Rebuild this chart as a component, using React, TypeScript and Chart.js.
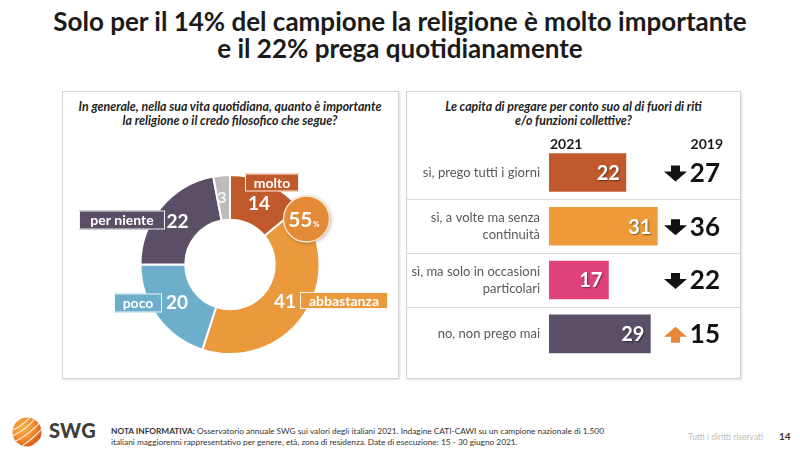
import React, { useEffect, useRef } from "react";
import { Chart, registerables } from "chart.js";

Chart.register(...registerables);

const FONT = "Lato, 'Open Sans', sans-serif";

// ---------- data ----------
const titleLines = [
  "Solo per il 14% del campione la religione è molto importante",
  "e il 22% prega quotidianamente",
];

const donutQuestion = [
  "In generale, nella sua vita quotidiana, quanto è importante",
  "la religione o il credo filosofico che segue?",
];
const donutLabels = ["molto", "abbastanza", "poco", "per niente", ""];
const donutValues = [14, 41, 20, 22, 3];
const donutColors = ["#C0592B", "#EA9A3C", "#6DAECB", "#5A4F66", "#BFBBBA"];
const importantTotal = 55;

const barQuestion = [
  "Le capita di pregare per conto suo al di fuori di riti",
  "e/o funzioni collettive?",
];
const barCategories = [
  ["sì, prego tutti i giorni"],
  ["sì, a volte ma senza", "continuità"],
  ["sì, ma solo in occasioni", "particolari"],
  ["no, non prego mai"],
];
const values2021 = [22, 31, 17, 29];
const values2019 = [27, 36, 22, 15];
const barColors = ["#C0592B", "#EE9B3A", "#E0417B", "#5A4F66"];
const yearLabels = ["2021", "2019"];

const noteBold = "NOTA INFORMATIVA:";
const noteLines = [
  " Osservatorio annuale SWG sui valori degli italiani 2021. Indagine CATI-CAWI su un campione nazionale di 1.500",
  "italiani maggiorenni rappresentativo per genere, età, zona di residenza. Date di esecuzione: 15 - 30 giugno 2021.",
];

// ---------- label layout (offsets from donut centre, px) ----------
const donutLabelLayout = [
  { vx: 29, vy: -61, box: [42, -82, 54, 18] },
  { vx: 55, vy: 37, box: [114, 36, 88, 17] },
  { vx: -53, vy: 38.5, box: [-92, 38.5, 48, 19] },
  { vx: -52.5, vy: -43, box: [-108, -44.5, 86, 19] },
  { vx: -8, vy: -67, box: null as null | number[] },
];
const bubbleOffset = { x: 76.5, y: -45.5, r: 23 };

function DonutChart() {
  const ref = useRef<HTMLCanvasElement | null>(null);
  useEffect(() => {
    if (!ref.current) return;
    const labelPlugin = {
      id: "donutLabels",
      afterDraw(chart: any) {
        const ctx = chart.ctx as CanvasRenderingContext2D;
        const meta = chart.getDatasetMeta(0);
        const arc = meta.data[0] as any;
        const cx = arc.x;
        const cy = arc.y;
        ctx.save();
        ctx.textBaseline = "middle";
        donutValues.forEach((v, i) => {
          const lay = donutLabelLayout[i];
          if (lay.box) {
            const [bx, by, bw, bh] = lay.box;
            ctx.fillStyle = donutColors[i];
            ctx.fillRect(cx + bx - bw / 2, cy + by - bh / 2, bw, bh);
            ctx.strokeStyle = "rgba(255,255,255,0.9)";
            ctx.lineWidth = 1;
            ctx.strokeRect(cx + bx - bw / 2 + 0.5, cy + by - bh / 2 + 0.5, bw - 1, bh - 1);
            ctx.fillStyle = "#ffffff";
            ctx.font = `bold 14px ${FONT}`;
            ctx.textAlign = "center";
            ctx.fillText(donutLabels[i], cx + bx, cy + by + 0.5);
          }
          ctx.fillStyle = i === 4 ? "rgba(255,255,255,0.85)" : "#ffffff";
          ctx.font = i === 4 ? `bold 16px ${FONT}` : `bold 19px ${FONT}`;
          ctx.textAlign = "center";
          ctx.fillText(String(v), cx + lay.vx, cy + lay.vy);
        });
        // 55% bubble
        const bx = cx + bubbleOffset.x;
        const by = cy + bubbleOffset.y;
        ctx.shadowColor = "rgba(0,0,0,0.35)";
        ctx.shadowBlur = 4;
        ctx.shadowOffsetX = 1;
        ctx.shadowOffsetY = 1;
        ctx.beginPath();
        ctx.arc(bx, by, bubbleOffset.r, 0, Math.PI * 2);
        ctx.fillStyle = "#E28A35";
        ctx.fill();
        ctx.shadowColor = "transparent";
        ctx.lineWidth = 1.5;
        ctx.strokeStyle = "#FBE3C8";
        ctx.stroke();
        ctx.fillStyle = "#ffffff";
        ctx.font = `bold 21px ${FONT}`;
        ctx.textAlign = "right";
        ctx.fillText(String(importantTotal), bx + 6, by + 1);
        ctx.font = `bold 8px ${FONT}`;
        ctx.textAlign = "left";
        ctx.fillText("%", bx + 6.5, by + 5);
        ctx.restore();
      },
    };
    const chart = new Chart(ref.current, {
      type: "doughnut",
      data: {
        labels: donutLabels,
        datasets: [
          {
            data: donutValues,
            backgroundColor: donutColors,
            borderColor: "#ffffff",
            borderWidth: 2,
          },
        ],
      },
      options: {
        responsive: false,
        animation: false,
        events: [],
        radius: 89.5,
        cutout: "50%",
        layout: { padding: { left: 60, right: 60, top: 70, bottom: 10 } },
        plugins: { legend: { display: false }, tooltip: { enabled: false } },
      } as any,
      plugins: [labelPlugin],
    });
    return () => chart.destroy();
  }, []);
  return <canvas ref={ref} width={336} height={287} style={{ position: "absolute", left: 62, top: 91 }} />;
}

function BarChart() {
  const ref = useRef<HTMLCanvasElement | null>(null);
  useEffect(() => {
    if (!ref.current) return;
    const drawArrow = (ctx: CanvasRenderingContext2D, x: number, y: number, up: boolean, color: string) => {
      const w = 23, hw = 4.5, shaftH = 6, headH = 10;
      const s = up ? -1 : 1;
      const top = y - s * 8;
      ctx.beginPath();
      ctx.moveTo(x - hw, top);
      ctx.lineTo(x + hw, top);
      ctx.lineTo(x + hw, top + s * shaftH);
      ctx.lineTo(x + w / 2, top + s * shaftH);
      ctx.lineTo(x, top + s * (shaftH + headH));
      ctx.lineTo(x - w / 2, top + s * shaftH);
      ctx.lineTo(x - hw, top + s * shaftH);
      ctx.closePath();
      ctx.fillStyle = color;
      ctx.fill();
    };
    const plugin = {
      id: "barDecor",
      beforeDatasetsDraw(chart: any) {
        const ctx = chart.ctx as CanvasRenderingContext2D;
        const y = chart.scales.y;
        ctx.save();
        ctx.strokeStyle = "#D9D9D9";
        ctx.lineWidth = 1;
        for (let i = 0; i < barCategories.length - 1; i++) {
          const yy = Math.round((y.getPixelForValue(i) + y.getPixelForValue(i + 1)) / 2) + 0.5;
          ctx.beginPath();
          ctx.moveTo(0, yy);
          ctx.lineTo(chart.width, yy);
          ctx.stroke();
        }
        ctx.restore();
      },
      afterDatasetsDraw(chart: any) {
        const ctx = chart.ctx as CanvasRenderingContext2D;
        const xs = chart.scales.x;
        const ys = chart.scales.y;
        const area = chart.chartArea;
        ctx.save();
        ctx.textBaseline = "middle";
        // headers
        ctx.fillStyle = "#1a1a1a";
        ctx.font = `bold 14px ${FONT}`;
        ctx.textAlign = "left";
        ctx.fillText(yearLabels[0], area.left + 1, area.top - 1.5);
        ctx.textAlign = "right";
        ctx.fillText(yearLabels[1], area.right + 1, area.top - 1.5);
        values2021.forEach((v, i) => {
          const yc = ys.getPixelForValue(i);
          // value in bar
          ctx.save();
          ctx.shadowColor = "rgba(0,0,0,0.45)";
          ctx.shadowBlur = 1.5;
          ctx.shadowOffsetX = 1;
          ctx.shadowOffsetY = 1;
          ctx.fillStyle = "#ffffff";
          ctx.font = `bold 20px ${FONT}`;
          ctx.textAlign = "right";
          ctx.fillText(String(v), xs.getPixelForValue(v) - 6, yc + 1);
          ctx.restore();
          // arrow
          const up = v > values2019[i];
          drawArrow(ctx, area.right - 46.5, yc + 1, up, up ? "#E8873A" : "#111111");
          // 2019 value
          ctx.fillStyle = "#111111";
          ctx.font = `bold 26px ${FONT}`;
          ctx.textAlign = "right";
          ctx.fillText(String(values2019[i]), area.right - 2, yc + 1);
        });
        ctx.restore();
      },
    };
    const chart = new Chart(ref.current, {
      type: "bar",
      data: {
        labels: barCategories,
        datasets: [
          {
            data: values2021,
            backgroundColor: barColors,
            barThickness: 38,
            borderWidth: 0,
          },
        ],
      },
      options: {
        responsive: false,
        animation: false,
        events: [],
        indexAxis: "y",
        layout: { padding: { left: 0, right: 18, top: 53.6, bottom: 7.7 } },
        scales: {
          x: { display: false, min: 0, max: 49.5 },
          y: {
            grid: { display: false, drawTicks: false },
            border: { display: false },
            ticks: {
              padding: 9,
              color: "#595959",
              font: { family: FONT, size: 13, lineHeight: 1.28 },
            },
            afterFit: (scale: any) => {
              scale.width = 142;
            },
          },
        },
        plugins: { legend: { display: false }, tooltip: { enabled: false } },
      } as any,
      plugins: [plugin],
    });
    return () => chart.destroy();
  }, []);
  return <canvas ref={ref} width={333} height={286} style={{ position: "absolute", left: 407, top: 92 }} />;
}

function SwgLogo() {
  return (
    <svg width={30} height={30} viewBox="0 0 30 30" style={{ position: "absolute", left: 12, top: 417 }}>
      <defs>
        <radialGradient id="swgg" cx="35%" cy="35%" r="70%">
          <stop offset="0%" stopColor="#F7B24A" />
          <stop offset="60%" stopColor="#EE8A2A" />
          <stop offset="100%" stopColor="#D9541C" />
        </radialGradient>
        <clipPath id="swgc">
          <circle cx="15" cy="15" r="14.5" />
        </clipPath>
      </defs>
      <circle cx="15" cy="15" r="14.5" fill="url(#swgg)" />
      <g clipPath="url(#swgc)" stroke="#ffffff" strokeWidth="1.1" fill="none" opacity="0.85">
        <path d="M -2 14 Q 10 10 20 -2" />
        <path d="M -2 20 Q 14 14 26 -2" />
        <path d="M 0 26 Q 18 18 31 2" />
        <path d="M 5 32 Q 22 22 33 8" />
        <path d="M 12 34 Q 26 26 34 16" />
      </g>
    </svg>
  );
}

const panelStyle: React.CSSProperties = {
  position: "absolute",
  boxSizing: "border-box",
  border: "1px solid #D3D3D3",
  boxShadow: "1px 1px 2px rgba(0,0,0,0.12)",
  background: "#ffffff",
};

const questionStyle: React.CSSProperties = {
  position: "absolute",
  textAlign: "center",
  fontFamily: FONT,
  fontWeight: 700,
  fontStyle: "italic",
  fontSize: 12.4,
  lineHeight: "13.5px",
  color: "#222222",
  whiteSpace: "nowrap",
};

export default function App() {
  return (
    <div
      style={{
        position: "absolute",
        left: 0,
        top: 0,
        width: 800,
        height: 451,
        background: "#ffffff",
        overflow: "hidden",
        fontFamily: FONT,
      }}
    >
      <div
        style={{
          position: "absolute",
          left: 0,
          top: 8,
          width: 800,
          textAlign: "center",
          fontWeight: 700,
          fontSize: 26,
          lineHeight: "27px",
          color: "#1b1b1b",
          whiteSpace: "nowrap",
        }}
      >
        {titleLines[0]}
        <br />
        {titleLines[1]}
      </div>

      <div style={{ ...panelStyle, left: 62, top: 91, width: 337, height: 288 }} />
      <div style={{ ...panelStyle, left: 406, top: 91, width: 335, height: 288 }} />

      <div style={{ ...questionStyle, left: 62, width: 336, top: 100 }}>
        {donutQuestion[0]}
        <br />
        {donutQuestion[1]}
      </div>
      <div style={{ ...questionStyle, left: 407, width: 333, top: 100 }}>
        {barQuestion[0]}
        <br />
        {barQuestion[1]}
      </div>

      <DonutChart />
      <BarChart />

      <SwgLogo />
      <div
        style={{
          position: "absolute",
          left: 49,
          top: 419,
          fontWeight: 900,
          fontSize: 20,
          lineHeight: "22px",
          color: "#3d3d3d",
          letterSpacing: "0.2px",
        }}
      >
        SWG
      </div>
      <div
        style={{
          position: "absolute",
          left: 111,
          top: 426,
          fontSize: 8.3,
          lineHeight: "10.5px",
          color: "#333333",
          whiteSpace: "nowrap",
        }}
      >
        <span style={{ fontWeight: 700 }}>{noteBold}</span>
        {noteLines[0]}
        <br />
        {noteLines[1]}
      </div>
      <div
        style={{
          position: "absolute",
          left: 688,
          top: 431,
          fontSize: 8.5,
          lineHeight: "12px",
          color: "#BDBDBD",
          whiteSpace: "nowrap",
        }}
      >
        Tutti i diritti riservati
      </div>
      <div
        style={{
          position: "absolute",
          left: 779,
          top: 430,
          fontSize: 10,
          fontWeight: 700,
          lineHeight: "12px",
          color: "#333333",
        }}
      >
        14
      </div>
    </div>
  );
}
